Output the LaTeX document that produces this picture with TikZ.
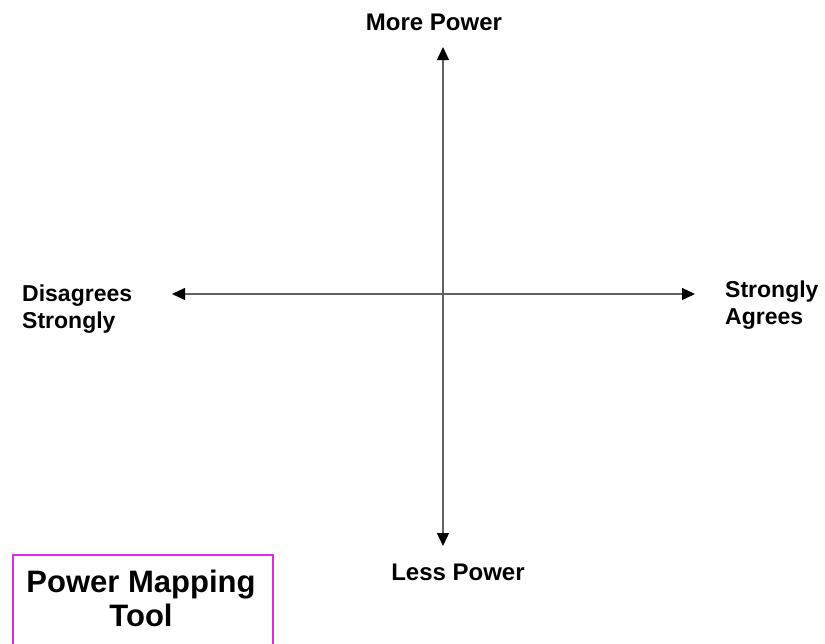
\documentclass[tikz,border=0pt]{standalone}
\usepackage{fontspec}
\setmainfont{Liberation Sans}
\usepackage{tikz}
\usetikzlibrary{positioning, arrows.meta}
\definecolor{boxpink}{RGB}{224,40,230}
\tikzset{
    axislabel/.style={font=\bfseries\fontsize{23}{26.5}\selectfont, inner sep=0pt, align=left},
    powerlabel/.style={font=\bfseries\fontsize{24}{27}\selectfont, inner sep=0pt},
    axis/.style={{Triangle[length=13pt, width=12pt, color=black]}-{Triangle[length=13pt, width=12pt, color=black]}, line width=1.3pt, black!62}
}

\begin{document}
\begin{tikzpicture}[
    x=1pt, y=-1pt,
    titlebox/.style={draw=boxpink, line width=2.3pt},
    title/.style={font=\bfseries\fontsize{31}{34}\selectfont, inner sep=0pt, align=center}
]
    \clip (0,0) rectangle (825,643);
    \useasboundingbox (0,0) rectangle (825,643);

    % --- Axis end points ---
    \coordinate (top) at (443,47);
    \coordinate (bottom) at (443,546);
    \coordinate (left) at (172,294);
    \coordinate (right) at (695,294);

    % --- Axes ---
    \draw[axis] (top) -- (bottom);
    \draw[axis] (left) -- (right);

    % --- Axis labels ---
    \node[powerlabel, anchor=base] (more) at (434,30) {More Power};
    \node[powerlabel, anchor=base] (less) at (458,580) {Less Power};
    \node[axislabel, anchor=north west] (disagree) at (22,285) {Disagrees\\Strongly};
    \node[axislabel, anchor=north west] (agree) at (725,281) {Strongly\\Agrees};

    % --- Title box ---
    \draw[titlebox] (13,555) rectangle (273,660);
    \node[title, anchor=north] (tool) at (141,570) {Power Mapping\\Tool};

\end{tikzpicture}
\end{document}
